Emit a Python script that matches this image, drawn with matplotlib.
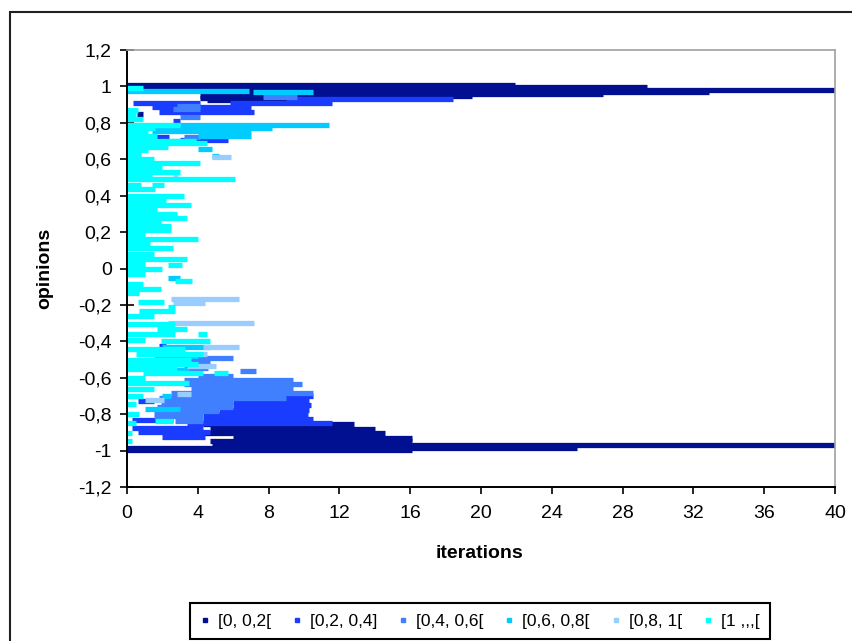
import matplotlib
matplotlib.use("Agg")
import matplotlib.pyplot as plt
from matplotlib.lines import Line2D
from matplotlib.patches import Rectangle
import numpy as np

# legend labels (uncertainty classes) and their colours
labels = ['[0, 0,2[', '[0,2, 0,4]', '[0,4, 0,6[', '[0,6, 0,8[', '[0,8, 1[', '[1 ,,,[']
colors = ['#001090', '#1a3cff', '#4080ff', '#00ccff', '#99ccff', '#00ffff']

# each class: opinion level, first iteration, last iteration of a run of dashes
c0_y  = [1.008, 0.996, 0.982, 0.971, 0.960, 0.949, 0.938, 0.925, 0.85, 0.695,
         -0.855, -0.88, -0.905, -0.93, -0.95, -0.969, -0.986, -0.997]
c0_x0 = [0, 0, 0, 4.5, 4.5, 4.1, 4.1, 4.5, 0.56, 0.5,
         4.3, 4.7, 2.4, 6.0, 4.7, 4.8, 0, 0]
c0_x1 = [21.9, 29.4, 40, 32.9, 26.9, 19.5, 15.0, 9.0, 0.9, 0.7,
         12.8, 14.0, 14.6, 16.1, 16.1, 40, 25.4, 16.1]

c1_y  = [0.93, 0.91, 0.91, 0.885, 0.86, 0.81, 0.72, 0.705, -0.425,
         -0.70, -0.725, -0.73, -0.75, -0.775, -0.80, -0.825, -0.83, -0.85, -0.875,
         -0.90, -0.925]
c1_x0 = [9.0, 0.35, 5.8, 1.4, 1.8, 2.6, 1.6, 3.0, 1.8,
         8.5, 6.0, 0.6, 6.0, 5.2, 4.3, 4.3, 0.3, 3.4, 0.3,
         0.6, 2.0]
c1_x1 = [18.4, 4.1, 11.6, 7.0, 7.2, 3.0, 2.4, 5.7, 2.2,
         10.5, 10.3, 1.5, 10.4, 10.3, 10.2, 10.5, 2.6, 11.6, 4.3,
         4.7, 4.4]

c2_y  = [0.94, 0.895, 0.875, 0.83, 0.72, -0.49, -0.52, -0.545, -0.565, -0.59,
         -0.61, -0.635, -0.66, -0.685, -0.71, -0.735, -0.76, -0.785, -0.81, -0.835]
c2_x0 = [7.7, 2.8, 2.6, 3.0, 3.2, 3.0, 3.2, 3.2, 6.4, 4.0,
         3.2, 3.2, 3.6, 2.5, 1.8, 1.9, 1.7, 1.5, 1.5, 2.7]
c2_x1 = [9.6, 4.1, 4.1, 4.1, 4.1, 6.0, 4.7, 4.6, 7.3, 6.0,
         9.4, 9.9, 9.4, 10.5, 9.0, 6.0, 6.0, 5.2, 4.3, 4.3]

c3_y  = [0.975, 0.97, 0.79, 0.77, 0.755, 0.725, 0.70, 0.655, 0.62,
         -0.05, -0.43, -0.48, -0.56, -0.70, -0.77]
c3_x0 = [0, 7.1, 3.0, 1.4, 1.4, 4.0, 2.5, 4.0, 4.8,
         2.3, 2.0, 1.5, 1.0, 2.0, 1.0]
c3_x1 = [6.9, 10.5, 11.4, 8.2, 7.0, 7.0, 3.9, 4.8, 5.2,
         3.0, 4.7, 4.0, 3.5, 2.5, 3.0]

c4_y  = [0.61, 0.52, -0.165, -0.19, -0.30, -0.43, -0.47, -0.535, -0.69, -0.72]
c4_x0 = [4.8, 2.6, 2.5, 2.6, 2.3, 4.3, 3.2, 3.4, 2.8, 1.0]
c4_x1 = [5.9, 2.9, 6.3, 4.4, 7.2, 6.3, 4.5, 5.0, 3.6, 2.1]

c5_y  = [0.99, 0.87, 0.85, 0.82, 0.79, 0.77, 0.745, 0.73, 0.70, 0.69, 0.665, 0.65,
         0.625, 0.60, 0.58, 0.56, 0.53, 0.51, 0.49, 0.46, 0.46, 0.435, 0.40, 0.375,
         0.35, 0.325, 0.30, 0.275, 0.25, 0.235, 0.21, 0.185, 0.16, 0.135, 0.11, 0.08,
         0.05, 0.025, 0.02, -0.005, -0.03, -0.07, -0.085, -0.11, -0.135, -0.185, -0.21,
         -0.235, -0.26, -0.305, -0.33, -0.36, -0.36, -0.395, -0.40, -0.44, -0.47, -0.50,
         -0.525, -0.55, -0.575, -0.575, -0.60, -0.63, -0.66, -0.70, -0.745, -0.80,
         -0.835, -0.85, -0.905, -0.95]
c5_x0 = [0, 0, 0, 0, 0, 0, 0, 0, 0, 0, 0, 0,
         0, 0, 0, 0, 0, 0, 0, 0, 1.4, 0, 0, 0,
         0, 0, 0, 0, 0, 0, 0, 0, 0, 0, 0, 0,
         0, 0, 2.3, 0, 0, 2.7, 0, 0, 0, 0.6, 2.3,
         0.7, 0, 0, 1.7, 0, 4.0, 0, 1.9, 0, 0.5, 0,
         0, 0, 0.9, 4.9, 0, 0, 0, 0, 0, 0,
         1.6, 0, 0, 0]
c5_x1 = [0.9, 0.6, 0.5, 0.9, 3.0, 1.6, 1.2, 1.7, 3.9, 4.5, 2.3, 1.2,
         0.8, 1.5, 4.1, 2.0, 3.0, 1.4, 6.1, 0.8, 2.1, 1.6, 3.2, 2.2,
         3.6, 1.7, 2.8, 3.4, 1.9, 2.5, 2.5, 1.0, 4.0, 1.3, 2.6, 1.5,
         3.4, 1.0, 3.1, 2.0, 1.0, 3.7, 0.9, 1.9, 0.7, 2.1, 2.7,
         2.7, 1.5, 2.7, 3.4, 2.7, 4.5, 1.0, 4.7, 3.3, 4.3, 3.6,
         4.0, 2.8, 4.3, 5.7, 1.0, 3.5, 1.5, 0.9, 0.5, 0.7,
         2.6, 0.5, 0.3, 0.3]

series = [(c0_y, c0_x0, c0_x1), (c1_y, c1_x0, c1_x1), (c2_y, c2_x0, c2_x1),
          (c3_y, c3_x0, c3_x1), (c4_y, c4_x0, c4_x1), (c5_y, c5_x0, c5_x1)]

plt.rcParams['font.family'] = ['Liberation Sans', 'DejaVu Sans']

W, H = 853, 641
fig = plt.figure(figsize=(W / 100, H / 100), dpi=100)
ax = fig.add_axes([127 / W, 1 - 487 / H, (835 - 127) / W, (487 - 50) / H])

# chart frame (cut off at the right and bottom of the picture)
fig.patches.append(Rectangle((10 / W, -0.2), 1.2, 1.2 - 12 / H,
                             transform=fig.transFigure, fill=False,
                             edgecolor='#202020', lw=1.5))

for (ys, x0, x1), col in zip(series, colors):
    ax.hlines(ys, x0, x1, colors=col, lw=3.8, capstyle='butt')

ax.set_xlim(0, 40)
ax.set_ylim(-1.2, 1.2)
ax.set_xticks(np.arange(0, 41, 4))
yt = [-1.2, -1.0, -0.8, -0.6, -0.4, -0.2, 0, 0.2, 0.4, 0.6, 0.8, 1.0, 1.2]
ax.set_yticks(yt)
ax.set_yticklabels([('%g' % v).replace('.', ',') for v in yt])
ax.tick_params(axis='y', direction='inout', length=10, width=1.2, labelsize=14, pad=6)
ax.tick_params(axis='x', direction='out', length=5, width=1.2, labelsize=14, pad=8)

for s in ['top', 'right']:
    ax.spines[s].set_color('#a0a0a0')
    ax.spines[s].set_linewidth(1.2)
for s in ['left', 'bottom']:
    ax.spines[s].set_color('black')
    ax.spines[s].set_linewidth(1.4)

fig.text(45 / W, 1 - 268 / H, 'opinions', rotation=90, fontsize=14,
         fontweight='bold', ha='center', va='center')
fig.text(480 / W, 1 - 553 / H, 'iterations', fontsize=14,
         fontweight='bold', ha='center', va='center')

handles = [Line2D([], [], ls='none', marker='s', markersize=2.5, color=c) for c in colors]
leg = fig.legend(handles, labels, ncol=6, loc='lower left',
                 bbox_to_anchor=(190 / W, 1 - 639 / H, 580 / W, 40 / H),
                 mode='expand', borderaxespad=0, fontsize=12.5, handlelength=0.5,
                 handletextpad=0.5, columnspacing=0.8, fancybox=False,
                 edgecolor='black', framealpha=1, borderpad=0.6)
leg.get_frame().set_linewidth(1.5)

fig.savefig('out.png', dpi=100)
